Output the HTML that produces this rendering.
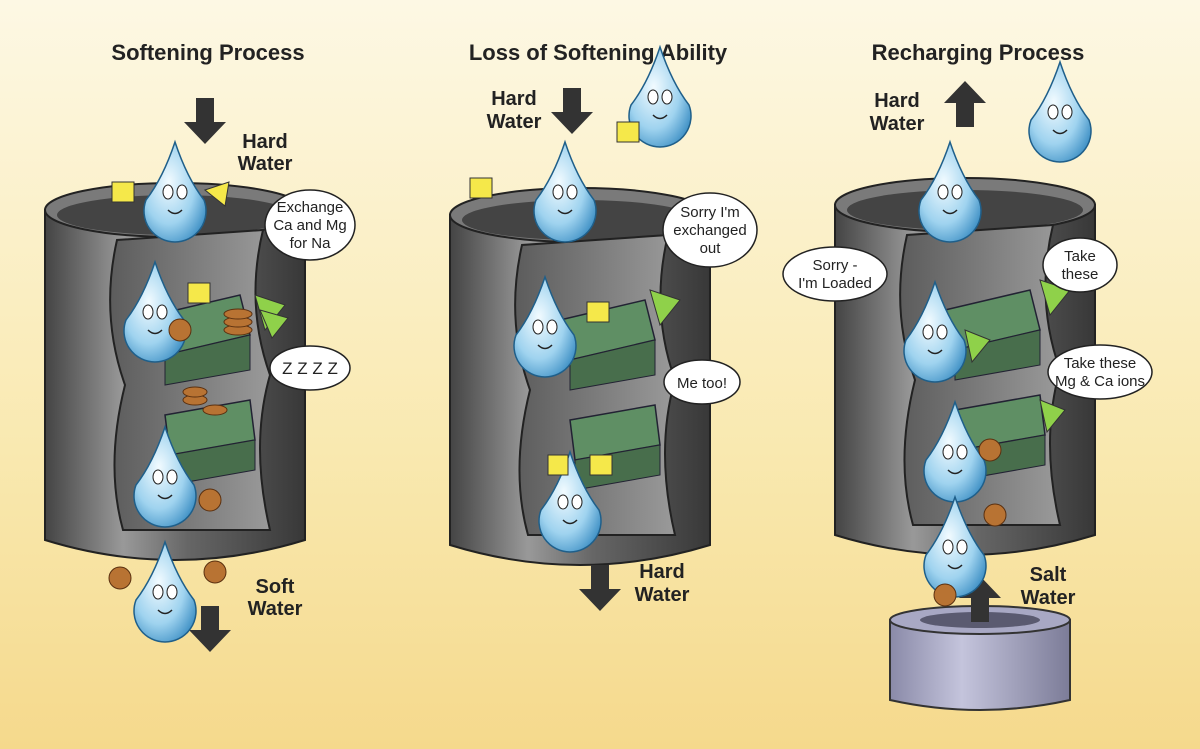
<!DOCTYPE html>
<html><head><meta charset="utf-8"><style>
html,body{margin:0;padding:0}
body{width:1200px;height:749px;overflow:hidden;background:linear-gradient(#fdf8e4 0%,#f9e9b0 60%,#f5d98c 100%);font-family:"Liberation Sans",sans-serif}
svg{position:absolute;left:0;top:0}
.t{font-family:"Liberation Sans",sans-serif;font-weight:bold;fill:#222}
.b{font-family:"Liberation Sans",sans-serif;font-size:15px;fill:#222;text-anchor:middle}
</style></head><body>
<svg width="1200" height="749" viewBox="0 0 1200 749">
<defs>
<linearGradient id="cyl" x1="0" x2="1"><stop offset="0" stop-color="#444"/><stop offset="0.3" stop-color="#999"/><stop offset="0.55" stop-color="#666"/><stop offset="1" stop-color="#383838"/></linearGradient>
<linearGradient id="inn" x1="0" x2="1"><stop offset="0" stop-color="#5c5c5c"/><stop offset="1" stop-color="#9a9a9a"/></linearGradient>
<radialGradient id="drop" cx="0.4" cy="0.4" r="0.7"><stop offset="0" stop-color="#f2fbff"/><stop offset="0.6" stop-color="#9fd3ef"/><stop offset="1" stop-color="#3d8fc4"/></radialGradient>
<linearGradient id="tank" x1="0" x2="1"><stop offset="0" stop-color="#8a8aa8"/><stop offset="0.4" stop-color="#c4c4dc"/><stop offset="1" stop-color="#7c7c98"/></linearGradient>
<g id="C">
<path d="M0,25 L0,355 Q130,395 260,355 L260,25 Z" fill="url(#cyl)" stroke="#222" stroke-width="2"/>
<ellipse cx="130" cy="25" rx="130" ry="27" fill="#7a7a7a" stroke="#222" stroke-width="2"/>
<ellipse cx="130" cy="30" rx="118" ry="20" fill="#444"/>
<path d="M72,55 Q55,130 80,200 Q60,280 78,345 L225,345 Q205,260 225,190 Q200,120 218,45 Z" fill="url(#inn)" stroke="#222" stroke-width="2"/>
<path d="M110,130 L195,110 L205,150 L120,170 Z" fill="#5f8f64" stroke="#223" stroke-width="1.5"/>
<path d="M120,170 L205,150 L205,185 L120,200 Z" fill="#486e4c" stroke="#223"/>
<path d="M120,230 L205,215 L210,255 L125,270 Z" fill="#5f8f64" stroke="#223" stroke-width="1.5"/>
<path d="M125,270 L210,255 L210,285 L125,300 Z" fill="#486e4c" stroke="#223"/>
</g>
<g id="D"><path d="M0,-48 Q-12,-12 -29,10 A31,31 0 1,0 29,10 Q12,-12 0,-48 Z" fill="url(#drop)" stroke="#1f5f8a" stroke-width="1.5"/><ellipse cx="-7" cy="2" rx="5" ry="7" fill="#fff" stroke="#222"/><ellipse cx="7" cy="2" rx="5" ry="7" fill="#fff" stroke="#222"/><path d="M-7,20 Q0,27 7,20" fill="none" stroke="#222" stroke-width="1.5"/></g>
<g id="AD"><path d="M-9,-22 h18 v24 h12 l-21,22 l-21,-22 h12 Z" fill="#333"/></g>
</defs>

<text class="t" x="208" y="60" font-size="22" text-anchor="middle">Softening Process</text>
<text class="t" x="598" y="60" font-size="22" text-anchor="middle">Loss of Softening Ability</text>
<text class="t" x="978" y="60" font-size="22" text-anchor="middle">Recharging Process</text>

<use href="#C" x="45" y="185"/>
<use href="#C" x="450" y="190"/>
<use href="#C" x="835" y="180"/>

<path d="M890,620 L890,700 Q980,720 1070,700 L1070,620 Z" fill="url(#tank)" stroke="#333" stroke-width="2"/>
<ellipse cx="980" cy="620" rx="90" ry="14" fill="#a8a8c4" stroke="#333" stroke-width="2"/>
<ellipse cx="980" cy="620" rx="60" ry="8" fill="#5a5a70"/>

<use href="#AD" x="205" y="120"/>
<use href="#AD" x="572" y="110"/>
<use href="#AD" x="210" y="628"/>
<use href="#AD" x="600" y="587"/>
<use href="#AD" transform="translate(965,105) rotate(180)"/>
<use href="#AD" transform="translate(980,600) rotate(180)"/>

<g class="t" font-size="20">
<text x="265" y="148" text-anchor="middle">Hard</text><text x="265" y="170" text-anchor="middle">Water</text>
<text x="275" y="593" text-anchor="middle">Soft</text><text x="275" y="615" text-anchor="middle">Water</text>
<text x="514" y="105" text-anchor="middle">Hard</text><text x="514" y="128" text-anchor="middle">Water</text>
<text x="662" y="578" text-anchor="middle">Hard</text><text x="662" y="601" text-anchor="middle">Water</text>
<text x="897" y="107" text-anchor="middle">Hard</text><text x="897" y="130" text-anchor="middle">Water</text>
<text x="1048" y="581" text-anchor="middle">Salt</text><text x="1048" y="604" text-anchor="middle">Water</text>
</g>

<use href="#D" x="175" y="190"/>
<use href="#D" x="155" y="310"/>
<use href="#D" x="165" y="475"/>
<use href="#D" x="165" y="590"/>
<use href="#D" x="565" y="190"/>
<use href="#D" x="660" y="95"/>
<use href="#D" x="545" y="325"/>
<use href="#D" x="570" y="500"/>
<use href="#D" x="950" y="190"/>
<use href="#D" x="1060" y="110"/>
<use href="#D" x="935" y="330"/>
<use href="#D" x="955" y="450"/>
<use href="#D" x="955" y="545"/>

<g fill="#f5e84a" stroke="#333">
<rect x="112" y="182" width="22" height="20"/><path d="M205,190 l24,-8 l-4,24 z"/>
<rect x="188" y="283" width="22" height="20"/><rect x="470" y="178" width="22" height="20"/>
<rect x="587" y="302" width="22" height="20"/><rect x="590" y="455" width="22" height="20"/>
<rect x="617" y="122" width="22" height="20"/><rect x="548" y="455" width="20" height="20"/>
</g>
<g fill="#8fd14a" stroke="#333">
<path d="M255,295 l30,10 l-20,25 z"/><path d="M260,310 l28,8 l-16,20 z"/>
<path d="M650,290 l30,10 l-20,25 z"/><path d="M1040,280 l30,10 l-20,25 z"/>
<path d="M1040,400 l25,10 l-18,22 z"/><path d="M965,330 l25,10 l-18,22 z"/>
</g>
<g fill="#b87333" stroke="#5a3010">
<ellipse cx="238" cy="330" rx="14" ry="5"/><ellipse cx="238" cy="322" rx="14" ry="5"/><ellipse cx="238" cy="314" rx="14" ry="5"/>
<ellipse cx="195" cy="400" rx="12" ry="5"/><ellipse cx="195" cy="392" rx="12" ry="5"/><ellipse cx="215" cy="410" rx="12" ry="5"/>
<circle cx="180" cy="330" r="11"/><circle cx="210" cy="500" r="11"/><circle cx="120" cy="578" r="11"/><circle cx="215" cy="572" r="11"/>
<circle cx="990" cy="450" r="11"/><circle cx="995" cy="515" r="11"/><circle cx="945" cy="595" r="11"/>
</g>

<g fill="#fff" stroke="#222" stroke-width="1.5">
<ellipse cx="310" cy="225" rx="45" ry="35"/>
<ellipse cx="310" cy="368" rx="40" ry="22"/>
<ellipse cx="710" cy="230" rx="47" ry="37"/>
<ellipse cx="702" cy="382" rx="38" ry="22"/>
<ellipse cx="835" cy="274" rx="52" ry="27"/>
<ellipse cx="1080" cy="265" rx="37" ry="27"/>
<ellipse cx="1100" cy="372" rx="52" ry="27"/>
</g>
<g class="b">
<text x="310" y="212">Exchange</text><text x="310" y="230">Ca and Mg</text><text x="310" y="248">for Na</text>
<text x="310" y="374" font-size="17">Z Z Z Z</text>
<text x="710" y="217">Sorry I'm</text><text x="710" y="235">exchanged</text><text x="710" y="253">out</text>
<text x="702" y="388">Me too!</text>
<text x="835" y="270">Sorry -</text><text x="835" y="288">I'm Loaded</text>
<text x="1080" y="261">Take</text><text x="1080" y="279">these</text>
<text x="1100" y="368">Take these</text><text x="1100" y="386">Mg &amp; Ca ions</text>
</g>
</svg>
</body></html>
